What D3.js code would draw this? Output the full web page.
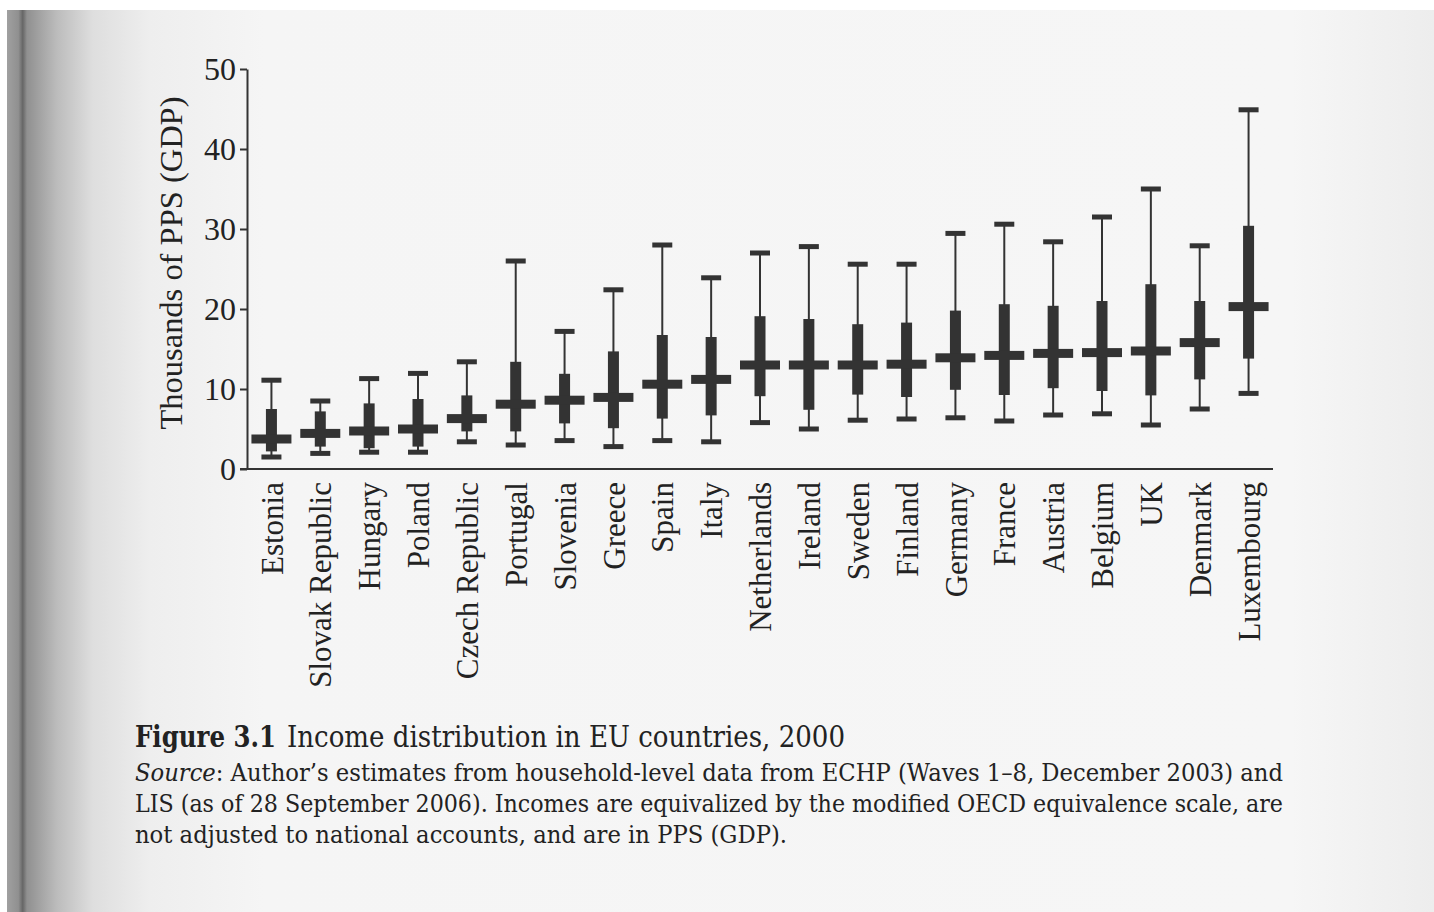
<!DOCTYPE html>
<html>
  <head>
    <script src="https://d3js.org/d3.v7.min.js"></script>
    <style>
      body { margin: 0; background: #fff; }
    </style>
  </head>
  <body>
    <div id="graph"></div>
    <script>

var W = 1434;
var H = 912;

// countries, in the order of the figure
var countries = ["Estonia", "Slovak Republic", "Hungary", "Poland", "Czech Republic",
  "Portugal", "Slovenia", "Greece", "Spain", "Italy", "Netherlands", "Ireland",
  "Sweden", "Finland", "Germany", "France", "Austria", "Belgium", "UK", "Denmark",
  "Luxembourg"];

// thousands of PPS (GDP)
var lowWhisker  = [1.5, 1.95, 2.1, 2.1, 3.4, 3.0, 3.55, 2.8, 3.55, 3.4, 5.8, 5.0, 6.1, 6.25, 6.4, 6.0, 6.75, 6.9, 5.5, 7.5, 9.45];
var lowerBox    = [2.2, 2.8, 2.6, 2.8, 4.7, 4.7, 5.7, 5.1, 6.3, 6.7, 9.1, 7.4, 9.3, 9.0, 9.9, 9.25, 10.1, 9.75, 9.2, 11.2, 13.8];
var medians     = [3.75, 4.45, 4.75, 5.0, 6.3, 8.1, 8.6, 8.95, 10.6, 11.2, 13.0, 13.0, 13.0, 13.1, 13.9, 14.2, 14.45, 14.55, 14.75, 15.8, 20.3];
var upperBox    = [7.5, 7.2, 8.2, 8.75, 9.2, 13.4, 11.9, 14.7, 16.75, 16.5, 19.1, 18.75, 18.1, 18.3, 19.8, 20.6, 20.4, 21.0, 23.1, 21.0, 30.4];
var highWhisker = [11.1, 8.5, 11.3, 11.95, 13.4, 26.0, 17.2, 22.4, 28.0, 23.9, 27.0, 27.8, 25.6, 25.6, 29.45, 30.6, 28.4, 31.5, 35.0, 27.9, 44.9];

var yTicks = [0, 10, 20, 30, 40, 50];
var yLabel = "Thousands of PPS (GDP)";

var captionTitle = "Income distribution in EU countries, 2000";
var captionNumber = "Figure 3.1";
var sourceLines = [
  ": Author\u2019s estimates from household-level data from ECHP (Waves 1\u20138, December 2003) and",
  "LIS (as of 28 September 2006). Incomes are equivalized by the modified OECD equivalence scale, are",
  "not adjusted to national accounts, and are in PPS (GDP)."
];

var ink = "#333";
var textInk = "#222";

var data = countries.map(function(c, i) {
  return { name: c, lo: lowWhisker[i], q1: lowerBox[i], med: medians[i], q3: upperBox[i], hi: highWhisker[i] };
});

var svg = d3.select("#graph")
  .append("svg")
  .attr("width", W)
  .attr("height", H);

// scanned page look: shaded gutter on the left
var defs = svg.append("defs");
var grad = defs.append("linearGradient")
  .attr("id", "page")
  .attr("gradientUnits", "userSpaceOnUse")
  .attr("x1", 7).attr("x2", W).attr("y1", 0).attr("y2", 0);
[[0, "#a0a0a0"], [0.008, "#909090"], [0.011, "#666"], [0.014, "#909090"],
 [0.035, "#bcbcbc"], [0.06, "#dedede"], [0.1, "#eeeeee"], [0.18, "#f5f5f5"],
 [0.9, "#f6f6f6"], [1, "#ededed"]].forEach(function(s) {
  grad.append("stop").attr("offset", s[0]).attr("stop-color", s[1]);
});

svg.append("rect").attr("width", W).attr("height", H).attr("fill", "#fff");
svg.append("rect")
  .attr("x", 7).attr("y", 10)
  .attr("width", W - 7).attr("height", H - 10)
  .attr("fill", "url(#page)");

var xScale = d3.scaleBand()
  .domain(countries)
  .range([247, 1273]);

var yScale = d3.scaleLinear()
  .domain([0, 50])
  .range([469, 69]);

function cx(d) { return xScale(d.name) + xScale.bandwidth() / 2; }

// y axis
var yAxis = d3.axisLeft(yScale)
  .tickValues(yTicks)
  .tickSize(7)
  .tickSizeOuter(0)
  .tickPadding(4);

var gy = svg.append("g")
  .attr("transform", "translate(" + xScale.range()[0] + ",0)")
  .call(yAxis);
gy.select(".domain").attr("stroke", ink).attr("stroke-width", 2);
gy.selectAll(".tick line").attr("stroke", ink).attr("stroke-width", 2);
gy.selectAll(".tick text")
  .attr("font-family", "'Liberation Serif', serif")
  .attr("font-size", "32px")
  .attr("fill", textInk)
  .attr("dy", "0.33em");

// x axis line
svg.append("line")
  .attr("x1", xScale.range()[0] - 7)
  .attr("x2", xScale.range()[1])
  .attr("y1", yScale(0))
  .attr("y2", yScale(0))
  .attr("stroke", ink)
  .attr("stroke-width", 2);

// y label
svg.append("text")
  .attr("transform", "translate(182," + ((yScale(50) + yScale(0)) / 2 - 6) + ") rotate(-90)")
  .attr("text-anchor", "middle")
  .attr("font-family", "'Liberation Serif', serif")
  .attr("font-size", "32px")
  .attr("fill", textInk)
  .attr("textLength", 333)
  .attr("lengthAdjust", "spacingAndGlyphs")
  .text(yLabel);

// category labels
svg.selectAll("text.country")
  .data(data)
  .enter()
  .append("text")
  .attr("class", "country")
  .attr("transform", function(d) {
    return "translate(" + cx(d) + "," + (yScale(0) + 13) + ") rotate(-90)";
  })
  .attr("dy", "0.36em")
  .attr("text-anchor", "end")
  .attr("font-family", "'Liberation Serif', serif")
  .attr("font-size", "31px")
  .attr("fill", textInk)
  .text(function(d) { return d.name; });

// boxes
var box = svg.selectAll("g.box")
  .data(data)
  .enter()
  .append("g")
  .attr("class", "box");

box.append("line")
  .attr("x1", cx).attr("x2", cx)
  .attr("y1", function(d) { return yScale(d.hi); })
  .attr("y2", function(d) { return yScale(d.lo); })
  .attr("stroke", ink)
  .attr("stroke-width", 2);

box.append("rect")
  .attr("x", function(d) { return cx(d) - 10; })
  .attr("y", function(d) { return yScale(d.hi) - 2.5; })
  .attr("width", 20).attr("height", 5)
  .attr("fill", ink);

box.append("rect")
  .attr("x", function(d) { return cx(d) - 10; })
  .attr("y", function(d) { return yScale(d.lo) - 2.5; })
  .attr("width", 20).attr("height", 5)
  .attr("fill", ink);

box.append("rect")
  .attr("x", function(d) { return cx(d) - 5.5; })
  .attr("y", function(d) { return yScale(d.q3); })
  .attr("width", 11)
  .attr("height", function(d) { return yScale(d.q1) - yScale(d.q3); })
  .attr("fill", ink);

box.append("rect")
  .attr("x", function(d) { return cx(d) - 20; })
  .attr("y", function(d) { return yScale(d.med) - 4.5; })
  .attr("width", 40).attr("height", 9)
  .attr("fill", ink);

// caption
var capFont = "'DejaVu Serif', serif";
svg.append("text")
  .attr("x", 135).attr("y", 747)
  .attr("font-family", capFont)
  .attr("font-weight", "bold")
  .attr("font-size", "29px")
  .attr("fill", textInk)
  .attr("textLength", 141)
  .attr("lengthAdjust", "spacingAndGlyphs")
  .text(captionNumber);

svg.append("text")
  .attr("x", 287).attr("y", 747)
  .attr("font-family", capFont)
  .attr("font-size", "29px")
  .attr("fill", textInk)
  .attr("textLength", 558)
  .attr("lengthAdjust", "spacingAndGlyphs")
  .text(captionTitle);

var lineWidths = [1148, 1148, 652];
var lineY = [781, 812, 843];
sourceLines.forEach(function(s, i) {
  var t = svg.append("text")
    .attr("x", 135).attr("y", lineY[i])
    .attr("font-family", capFont)
    .attr("font-size", "25px")
    .attr("fill", textInk)
    .attr("textLength", lineWidths[i])
    .attr("lengthAdjust", "spacingAndGlyphs");
  if (i == 0) {
    t.append("tspan").attr("font-style", "italic").text("Source");
  }
  t.append("tspan").text(s);
});

    </script>
  </body>
</html>
